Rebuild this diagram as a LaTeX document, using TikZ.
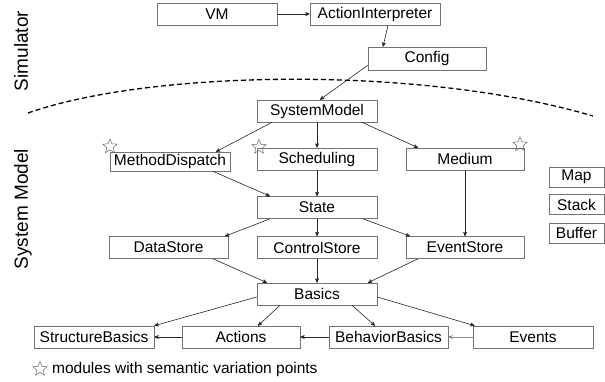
\documentclass[tikz,border=0pt]{standalone}
\usepackage{fontspec}
\setmainfont{Liberation Sans}
\usetikzlibrary{arrows,%
                shapes.geometric}

\begin{document}
\begin{tikzpicture}[x=1pt, y=-1pt, >=stealth', auto]
    \tikzstyle{module}=[rectangle, draw=black!55, line width=0.6pt, minimum width=120pt, minimum height=22pt, inner sep=0pt, font=\fontsize{15.5}{18}\selectfont]
    \tikzstyle{side}=[rotate=90, font=\fontsize{19}{22}\selectfont]
    \tikzstyle{vpoint}=[star, star points=5, star point ratio=2.2, draw=black!60, line width=0.5pt, minimum size=15pt, inner sep=0pt]
    \tikzstyle{dep}=[->, black!85, line width=0.6pt]

    \useasboundingbox (0,0) rectangle (605,381);

    % simulator part
    \node[module] (vm) at (217,14) {VM};
    \node[module, minimum width=130pt] (ai) at (375,14) {ActionInterpreter};
    \node[module, minimum width=118pt, minimum height=23pt] (config) at (427,58.5) {Config};

    % border between the two parts
    \draw[line width=1.3pt, dash pattern=on 5pt off 3pt] (28,113) .. controls (150,70) and (420,65) .. (593,116);

    % system model
    \node[module] (sysmod) at (317,111) {SystemModel};
    \node[module, minimum height=19pt] (methdisp) at (170,161.5) {MethodDispatch};
    \node[module] (sched) at (317,159) {Scheduling};
    \node[module, minimum width=118pt] (medium) at (465,159) {Medium};
    \node[module] (state) at (317,207.5) {State};
    \node[module, minimum width=119pt] (datastore) at (168.5,247.5) {DataStore};
    \node[module] (ctrlstore) at (317,247.5) {ControlStore};
    \node[module, minimum width=118pt] (evstore) at (465,247.5) {EventStore};
    \node[module] (basics) at (317,294) {Basics};
    \node[module] (strbasics) at (94,337) {StructureBasics};
    \node[module, minimum width=118pt] (actions) at (241,337) {Actions};
    \node[module, minimum width=119pt] (behbasics) at (388.5,337) {BehaviorBasics};
    \node[module] (events) at (533,337) {Events};

    \node[module, minimum width=55pt, minimum height=20pt] (map) at (576.5,177) {Map};
    \node[module, minimum width=55pt, minimum height=20pt] (stack) at (576.5,204.5) {Stack};
    \node[module, minimum width=55pt, minimum height=20pt] (buffer) at (576.5,233) {Buffer};

    % semantic variation points
    \node[vpoint] (s1) at (110,146.5) {};
    \node[vpoint] (s2) at (259,147) {};
    \node[vpoint] (s3) at (520,144.5) {};

    \node[side] (simlab) at (21,51) {Simulator};
    \node[side] (smlab) at (23,209) {System Model};

    \draw[dep] (vm) -- (ai);
    \draw[dep] ([xshift=13pt]ai.south) -- ([xshift=-44pt]config.north);
    \draw[dep] ([yshift=5pt]config.south west) -- ([xshift=3pt]sysmod.north);

    \draw[dep] ([xshift=-45pt]sysmod.south) -- ([xshift=46pt]methdisp.north);
    \draw[dep] (sysmod) -- (sched);
    \draw[dep] ([xshift=45pt]sysmod.south) -- ([xshift=-47pt]medium.north);

    \draw[dep] ([xshift=43pt]methdisp.south) -- ([xshift=-47pt]state.north);
    \draw[dep] (sched) -- (state);
    \draw[dep] ([xshift=-47pt]state.south) -- ([xshift=56.5pt]datastore.north);
    \draw[dep] (state) -- (ctrlstore);
    \draw[dep] ([xshift=46pt]state.south) -- ([xshift=-55pt]evstore.north);
    \draw[dep] (medium) -- (evstore);

    \draw[dep] ([xshift=44.5pt]datastore.south) -- ([xshift=-50pt]basics.north);
    \draw[dep] (ctrlstore) -- (basics);
    \draw[dep] ([xshift=-47pt]evstore.south) -- ([xshift=51pt]basics.north);

    \draw[dep] ([yshift=-3pt]basics.west) -- (strbasics.north east);
    \draw[dep] ([xshift=-37pt]basics.south) -- ([xshift=17pt]actions.north);
    \draw[dep] ([xshift=35pt]basics.south) -- ([xshift=-13.5pt]behbasics.north);
    \draw[dep] ([yshift=-3pt]basics.east) -- ([xshift=2pt]events.north west);

    \draw[dep] (actions) -- (strbasics);
    \draw[dep] (behbasics) -- (actions);
    \draw[dep, black!45] (events) -- (behbasics);

    % legend
    \node[vpoint] (legstar) at (40,369) {};
    \node[anchor=west, inner sep=0pt, font=\fontsize{15.5}{18}\selectfont] (legend) at (52,369) {modules with semantic variation points};
\end{tikzpicture}
\end{document}
